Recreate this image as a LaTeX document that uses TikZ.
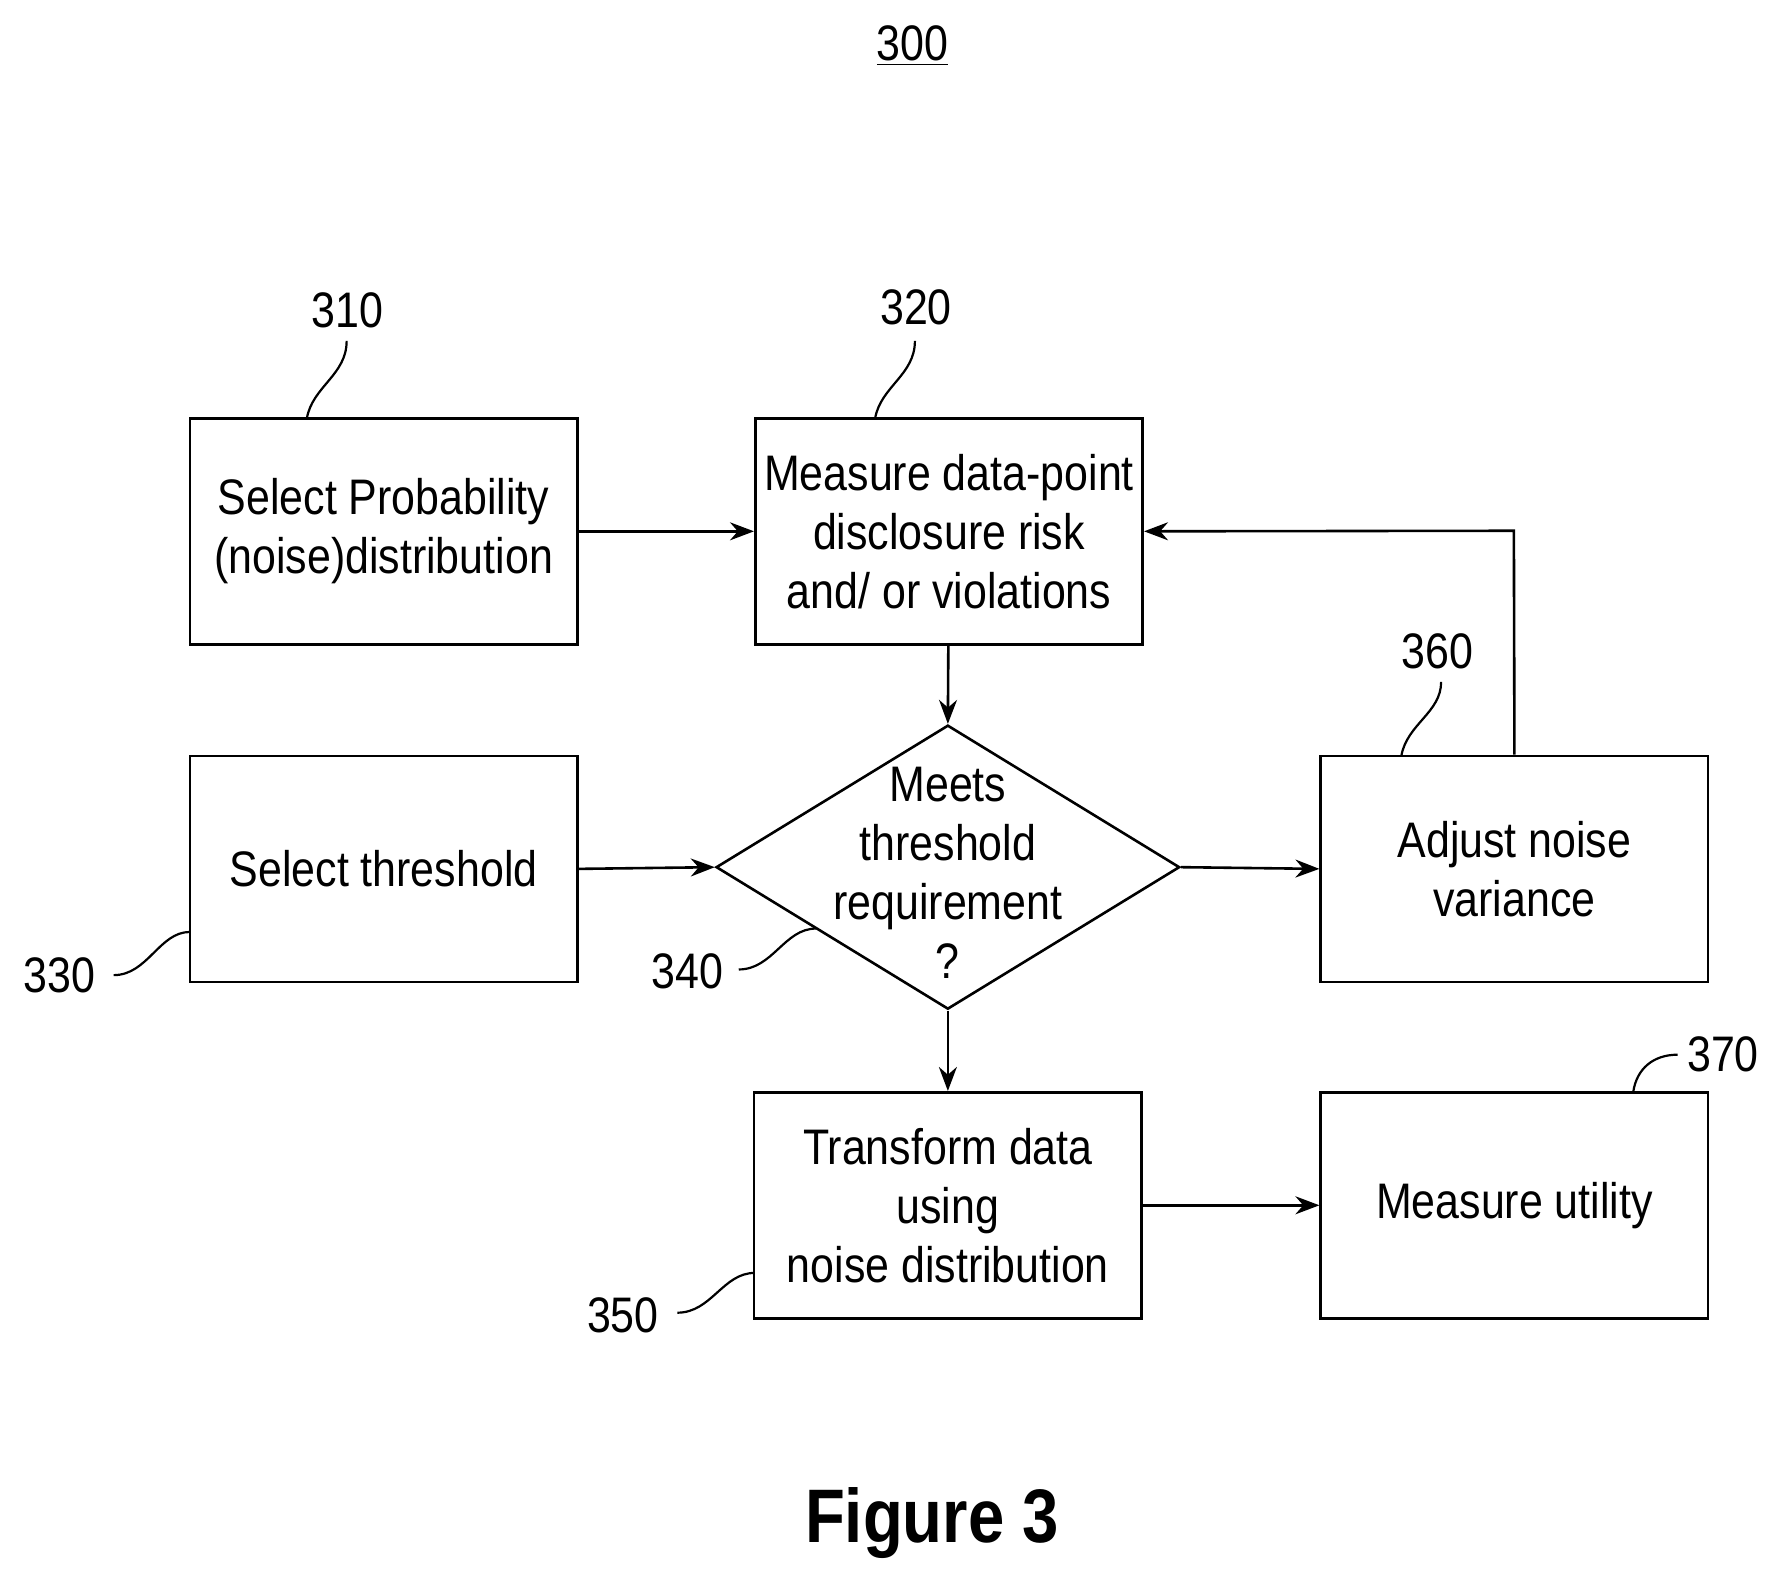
\documentclass[tikz,border=0pt]{standalone}
\usepackage{fontspec}
\setmainfont{Liberation Sans}[FakeStretch=0.86]
\usetikzlibrary{arrows.meta,shapes.geometric}
\begin{document}
\begin{tikzpicture}[x=0.02cm,y=-0.02cm,
  box/.style={draw,line width=1.3pt,minimum width=6.82cm,minimum height=3.98cm,inner sep=0pt,align=center,font=\fontsize{25}{29.5}\selectfont},
  arr/.style={line width=1.3pt,-{Stealth[length=12pt,width=9pt]}},
  lead/.style={line width=1.1pt},
  lbl/.style={font=\fontsize{25}{29.5}\selectfont,inner sep=0pt}]
\useasboundingbox (0,0) rectangle (1560,1388);
\node[box] (b310) at (337.5,467.5) {Select Probability\\(noise)distribution};
\node[box] (b320) at (835,467.5) {Measure data-point\\disclosure risk\\and/ or violations};
\node[box] (b330) at (337.5,764.5) {Select threshold};
\node[box] (b360) at (1332.5,764.5) {Adjust noise\\variance};
\node[box] (b350) at (834,1060.5) {Transform data\\using\\noise distribution};
\node[box] (b370) at (1332.5,1060.5) {Measure utility};
\node[draw,line width=1.3pt,diamond,aspect=1.632,minimum width=8.16cm,minimum height=5cm,inner sep=0pt] (d) at (834,763) {};
\node[align=center,font=\fontsize{25}{29.5}\selectfont] at (834,768) {Meets\\threshold\\requirement\\?};
\draw[arr] (b310) -- (b320);
\draw[arr] (b320) -- (d.north);
\draw[arr] (b330.east) -- (d.west);
\draw[arr] (d.east) -- (b360.west);
\draw[arr] (d.south) -- (b350);
\draw[arr] (b350) -- (b370);
\coordinate (c1) at (1332,467);
\draw[arr] (b360.north) -- (c1) -- (b320.east);
\node[lbl] (t300) at (803,40) {\underline{300}};
\node[lbl] (t310) at (306,273) {310};
\node[lbl] (t320) at (806,270) {320};
\node[lbl] (t360) at (1265,573) {360};
\node[lbl] (t370) at (1516,928) {370};
\node[lbl] (t330) at (52,858) {330};
\node[lbl] (t340) at (605,855) {340};
\node[lbl] (t350) at (548,1157) {350};
\draw[lead] (270,368) .. controls (275,340) and (305,330) .. (305,300);
\draw[lead] (770,368) .. controls (775,340) and (805,330) .. (805,300);
\draw[lead] (1233,665) .. controls (1238,637) and (1268,627) .. (1268,600);
\draw[lead] (1437,961) .. controls (1440,940) and (1455,928) .. (1476,928);
\draw[lead] (100,858) .. controls (130,858) and (140,820) .. (167,820);
\draw[lead] (650,853) .. controls (680,853) and (690,817) .. (718,817);
\draw[lead] (596,1155) .. controls (626,1155) and (636,1120) .. (664,1120);
\node[font=\fontsize{38}{44}\selectfont\bfseries] (fig) at (820,1340) {Figure 3};
\end{tikzpicture}
\end{document}
